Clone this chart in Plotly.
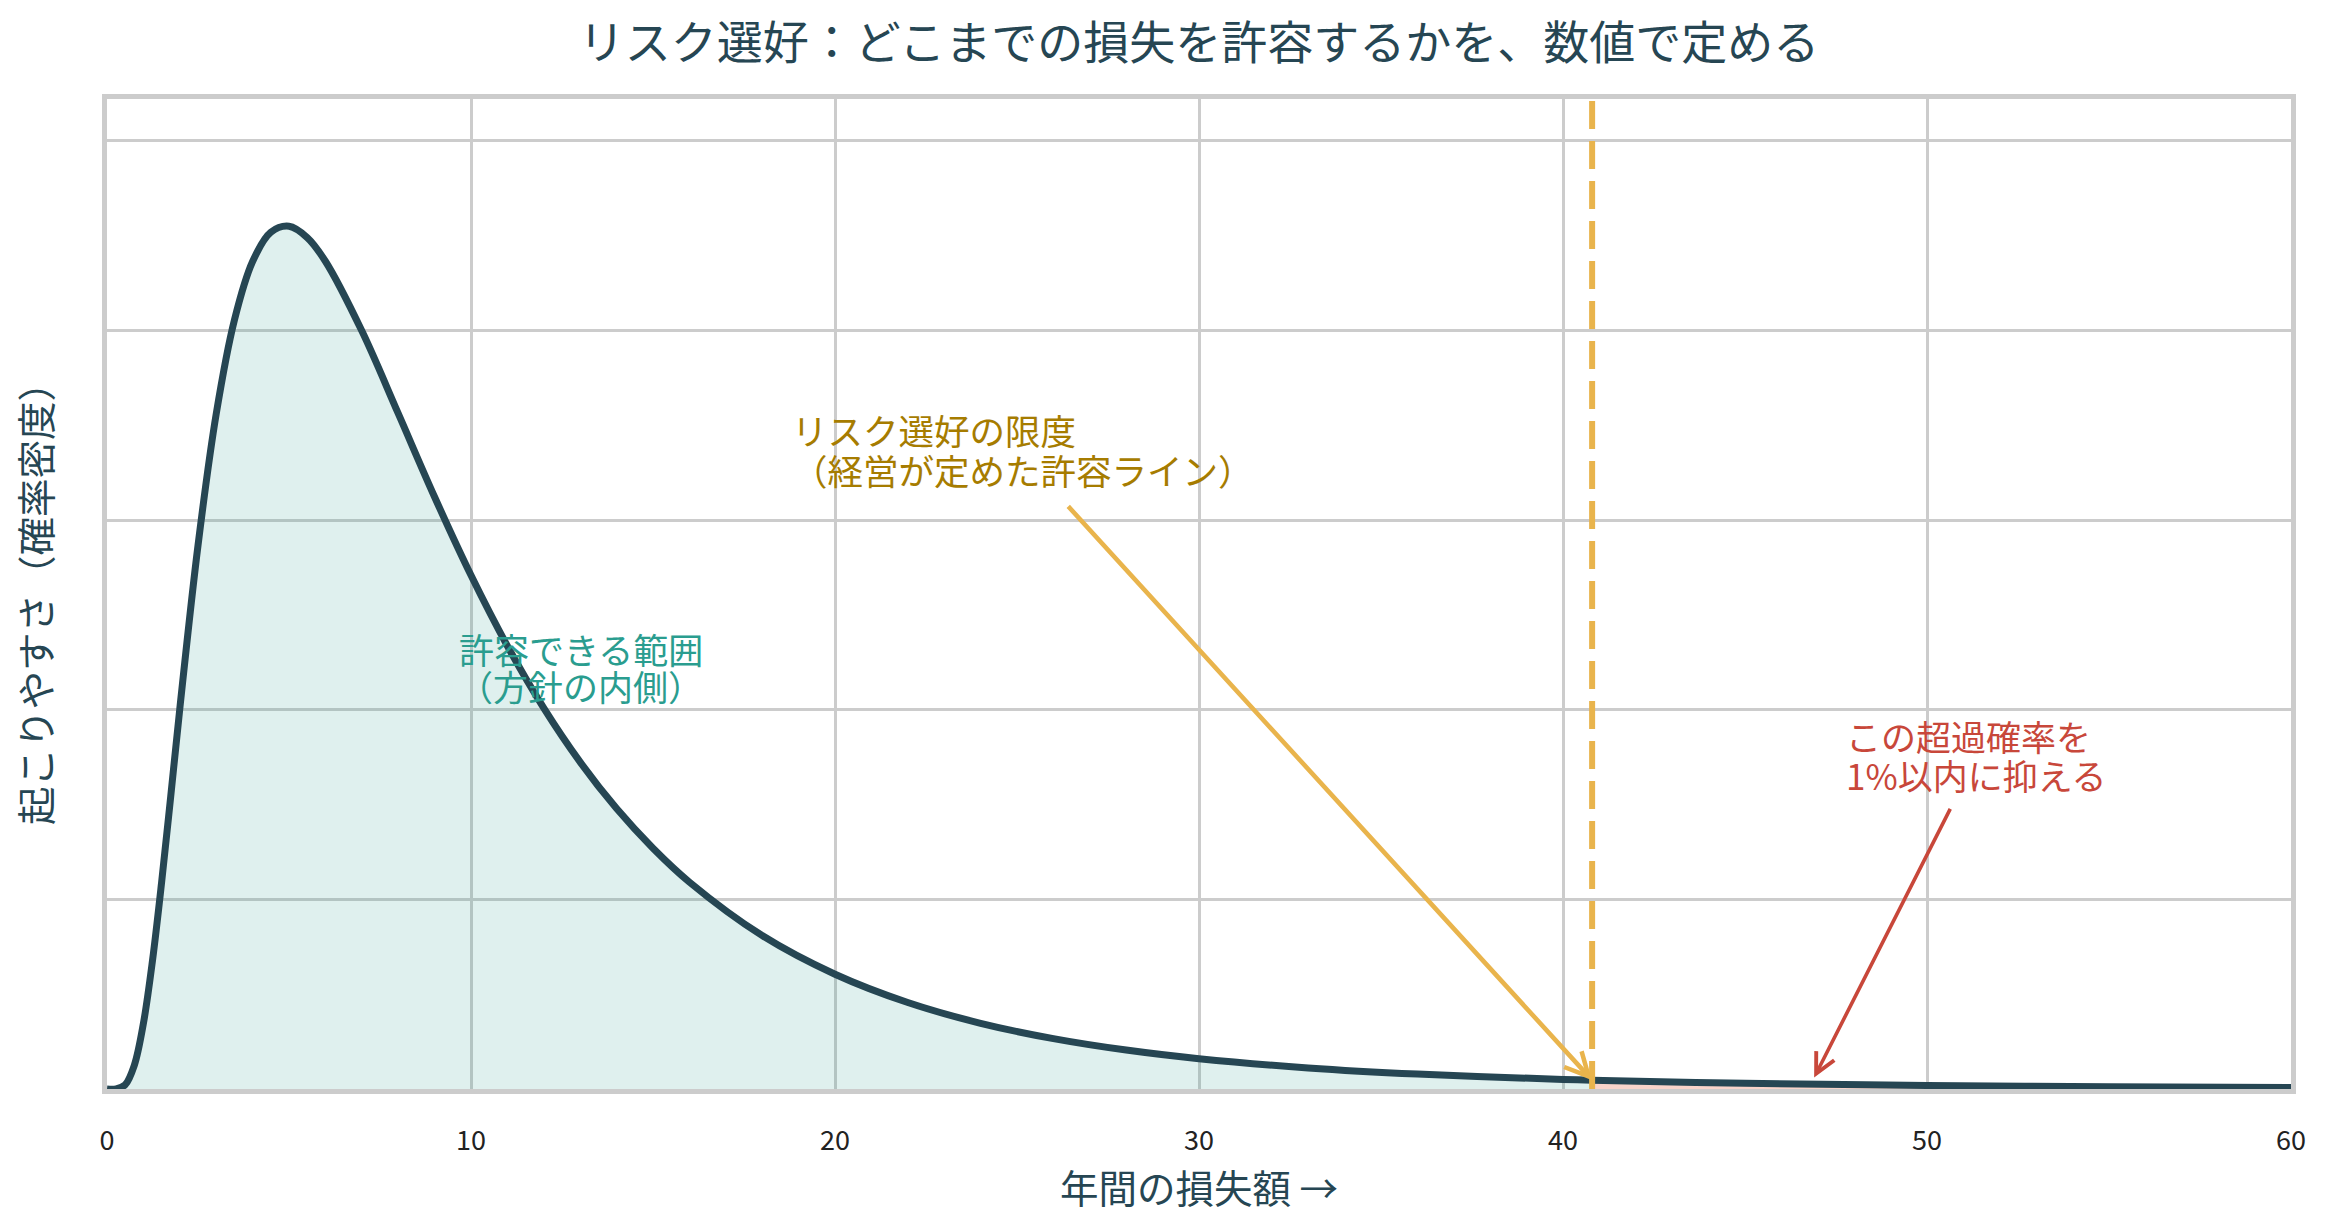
import plotly.graph_objects as go

# Loss amount (x) and density (y)
loss = [0, 0.25, 0.5, 0.75, 1.0, 1.25, 1.5, 1.75, 2.0, 2.5, 3.0, 3.5, 4.0, 4.5, 5.0, 5.5, 6.0,
        7, 8, 9, 10, 11, 12, 13, 14, 15, 16, 18, 20, 22, 24, 26, 28, 30, 33, 36, 40, 40.8,
        45, 50, 55, 60]
density = [0, 0.000011, 0.000447, 0.002498, 0.00691, 0.01355, 0.02178, 0.03084, 0.04010,
           0.05732, 0.07118, 0.08108, 0.08726, 0.09034, 0.09098, 0.08979, 0.08729,
           0.07995, 0.07124, 0.06243, 0.05417, 0.04672, 0.04016, 0.03447, 0.02957,
           0.02539, 0.02182, 0.01618, 0.01210, 0.009118, 0.006930, 0.005311, 0.004103,
           0.003195, 0.002225, 0.001574, 0.001014, 0.000931, 0.000603, 0.000370,
           0.000233, 0.000151]

limit = 40.8
x_ticks = [0, 10, 20, 30, 40, 50, 60]

title_text = "リスク選好：どこまでの損失を許容するかを、数値で定める"
x_title = "年間の損失額 →"
y_title = "起こりやすさ（確率密度）"
label_inside = ["許容できる範囲", "（方針の内側）"]
label_limit = ["リスク選好の限度", "（経営が定めた許容ライン）"]
label_tail = ["この超過確率を", "1%以内に抑える"]

FONT = "Noto Sans CJK JP"
DARK = "#264653"
TEAL = "#2a9d8f"
GOLD = "#e9b44c"
GOLD_TEXT = "#a67c00"
RED = "#c8473a"

inside_x = [x for x in loss if x <= limit]
inside_y = [y for x, y in zip(loss, density) if x <= limit]
tail_x = [x for x in loss if x >= limit]
tail_y = [y for x, y in zip(loss, density) if x >= limit]

fig = go.Figure()
fig.add_trace(go.Scatter(x=inside_x, y=inside_y, mode="lines", line=dict(width=0, shape="spline"),
                         fill="tozeroy", fillcolor="rgba(42,157,143,0.15)", hoverinfo="skip",
                         showlegend=False))
fig.add_trace(go.Scatter(x=tail_x, y=tail_y, mode="lines", line=dict(width=0, shape="spline"),
                         fill="tozeroy", fillcolor="rgba(231,111,81,0.3)", hoverinfo="skip",
                         showlegend=False))
fig.add_trace(go.Scatter(x=loss, y=density, mode="lines",
                         line=dict(color=DARK, width=7, shape="spline"), showlegend=False))

fig.add_shape(type="line", xref="x", yref="paper", x0=limit, x1=limit, y0=0, y1=1,
              line=dict(color=GOLD, width=6, dash="28px,12px"))

# text lines (one annotation per line for tight line spacing)
for txt, yy in zip(label_inside, [0.0465, 0.0425]):
    fig.add_annotation(x=13.02, y=yy, text=txt, showarrow=False, xanchor="center",
                       yanchor="middle", borderpad=0, font=dict(family=FONT, size=35, color=TEAL))
for txt, yy in zip(label_limit, [0.0696, 0.0653]):
    fig.add_annotation(x=18.8, y=yy, text=txt, showarrow=False, xanchor="left",
                       yanchor="middle", borderpad=0, font=dict(family=FONT, size=35.5, color=GOLD_TEXT))
for txt, yy in zip(label_tail, [0.0373, 0.0332]):
    fig.add_annotation(x=47.75, y=yy, text=txt, showarrow=False, xanchor="left",
                       yanchor="middle", borderpad=0, font=dict(family=FONT, size=35, color=RED))

# arrows
fig.add_annotation(x=limit, y=0.00093, ax=26.37, ay=0.0616, axref="x", ayref="y",
                   text="", showarrow=True, arrowhead=5, arrowsize=1,
                   arrowwidth=4.6, arrowcolor=GOLD)
fig.add_annotation(x=46.9, y=0.0012, ax=50.66, ay=0.0297, axref="x", ayref="y",
                   text="", showarrow=True, arrowhead=5, arrowsize=1.1,
                   arrowwidth=3.6, arrowcolor=RED)

fig.update_layout(
    width=2330, height=1228,
    margin=dict(l=107, r=39, t=99, b=139),
    paper_bgcolor="white", plot_bgcolor="white",
    font=dict(family=FONT, color=DARK),
    title=dict(text=title_text, x=0.5, xref="paper", xanchor="center", y=0.965, yanchor="middle",
               font=dict(family=FONT, size=46, color=DARK)),
)
fig.update_xaxes(range=[0, 60], tickvals=x_ticks, showgrid=True, gridcolor="#cccccc", gridwidth=3,
                 zeroline=False, showline=True, mirror=True, linecolor="#cccccc", linewidth=5,
                 tickfont=dict(family=FONT, size=27, color="#222222"), ticklabelstandoff=24,
                 title=dict(text=x_title, font=dict(family=FONT, size=38.5, color=DARK), standoff=7))
fig.update_yaxes(range=[0, 0.1044], dtick=0.02, showticklabels=False, showgrid=True,
                 gridcolor="#cccccc", gridwidth=3, zeroline=False, showline=True, mirror=True,
                 linecolor="#cccccc", linewidth=5,
                 title=dict(text=y_title, font=dict(family=FONT, size=38.5, color=DARK), standoff=40))

fig.write_html("out.html")
